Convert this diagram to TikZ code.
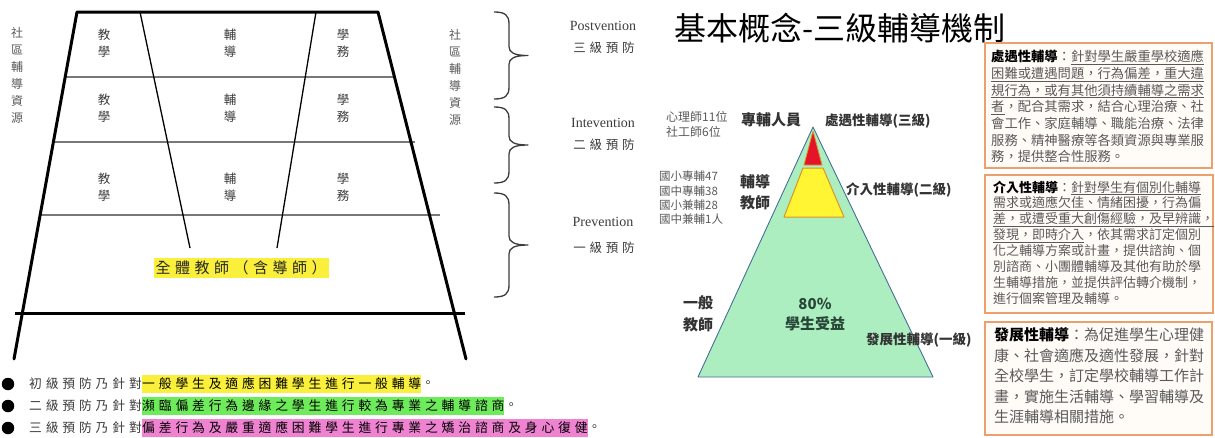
\documentclass[tikz,border=0pt]{standalone}
\usepackage{fontspec}
\setmainfont{Liberation Serif}
\newfontfamily\cjk{Noto Sans CJK TC}
\newfontfamily\cjksp[LetterSpace=30]{Noto Sans CJK TC}
\definecolor{hlyellow}{RGB}{250,240,60}
\definecolor{hlgreen}{RGB}{110,235,90}
\definecolor{hlpink}{RGB}{240,130,210}
\definecolor{mint}{RGB}{172,238,192}
\definecolor{pyredge}{RGB}{70,110,150}
\definecolor{pyrred}{RGB}{230,20,40}
\definecolor{pyryellow}{RGB}{255,245,50}
\definecolor{pyrorange}{RGB}{215,150,40}
\definecolor{boxedge}{RGB}{235,160,110}
\definecolor{boxfill}{RGB}{255,252,248}
\definecolor{txtgray}{RGB}{90,90,90}
\definecolor{kaigray}{RGB}{60,60,60}
\definecolor{hlinec}{RGB}{120,120,120}
\definecolor{darkgreen}{RGB}{40,70,55}
\tikzset{
  outer/.style={line width=3pt, line join=round, line cap=round},
  hrule/.style={line width=2pt, hlinec},
  inner/.style={line width=1.3pt},
  cell/.style={font=\cjk\fontsize{12.5}{17}\selectfont, text=kaigray, align=center, inner sep=0pt},
  vlabel/.style={font=\cjk\fontsize{12}{17}\selectfont, text=txtgray, align=center, inner sep=0pt},
  bracelbl/.style={font=\fontsize{14}{16}\selectfont, text=kaigray, inner sep=0pt},
  bracecjk/.style={font=\cjksp\fontsize{12.5}{15}\selectfont, text=kaigray, inner sep=0pt},
  bracepath/.style={line width=1.3pt, kaigray, line join=round},
  smallgray/.style={font=\cjk\fontsize{11.5}{14.3}\selectfont, text=txtgray, align=left, inner sep=0pt},
  boldlbl/.style={font=\cjk\bfseries\fontsize{15}{21}\selectfont, text=black!80, align=center, inner sep=0pt},
  levellbl/.style={font=\cjk\bfseries\fontsize{13.5}{16}\selectfont, text=black!80, inner sep=0pt},
  infobox/.style={draw=boxedge, line width=1.2pt, fill=boxfill},
  boxtxt/.style={text=txtgray, align=left, inner sep=0pt},
  bulletdot/.style={circle, fill=black, inner sep=0pt, minimum size=12.5pt},
  btext/.style={font=\cjksp\fontsize{12.8}{15}\selectfont, text=kaigray, inner xsep=0pt, inner ysep=3pt},
}
\newcommand\drawbrace[2]{%
  \draw[bracepath] (494,#1) .. controls (505,#1) and (509,{#1+3}) .. (509,{#1+12})
    -- (509,{(#1+#2)/2-9}) .. controls (509,{(#1+#2)/2-3}) and (514,{(#1+#2)/2}) .. (528,{(#1+#2)/2})
    .. controls (514,{(#1+#2)/2}) and (509,{(#1+#2)/2+3}) .. (509,{(#1+#2)/2+9})
    -- (509,{#2-12}) .. controls (509,{#2-3}) and (505,#2) .. (494,#2);}
\begin{document}
\begin{tikzpicture}[x=1pt,y=-1pt]
\useasboundingbox (0,0) rectangle (1215,437);
% ---------- left trapezoid ----------
\coordinate (TL) at (77,12);
\coordinate (TR) at (378,12);
\coordinate (BL) at (14,359);
\coordinate (BR) at (466,359);
\draw[hrule] (65,77) -- (394,77);
\draw[hrule] (53,142) -- (415,142);
\draw[hrule] (40,215) -- (440,215);
\draw[inner] (140,12) -- (190,248);
\draw[inner] (316,12) -- (277,248);
\draw[outer] (BL) -- (TL) -- (TR) -- (BR);
\draw[line width=3pt] (15,313) -- (465,313);
% cells
\node[cell] (c11) at (104,43) {教\\學};
\node[cell] (c12) at (230,43) {輔\\導};
\node[cell] (c13) at (343,43) {學\\務};
\node[cell] (c21) at (104,108) {教\\學};
\node[cell] (c22) at (230,108) {輔\\導};
\node[cell] (c23) at (343,108) {學\\務};
\node[cell] (c31) at (104,187) {教\\學};
\node[cell] (c32) at (230,187) {輔\\導};
\node[cell] (c33) at (343,187) {學\\務};
\node[font=\cjksp\fontsize{15}{18}\selectfont, fill=hlyellow, text=black!85, inner xsep=2pt, inner ysep=3pt] (allt) at (241,268) {全體教師（含導師）};
% community resources
\node[vlabel] (cl) at (17,75) {社\\區\\輔\\導\\資\\源};
\node[vlabel] (cr) at (455,77) {社\\區\\輔\\導\\資\\源};
% braces
\drawbrace{12}{99}
\drawbrace{107}{183}
\drawbrace{193}{297}
\node[bracelbl] (post) at (603,26) {Postvention};
\node[bracecjk] (post2) at (604,48) {三級預防};
\node[bracelbl] (inte) at (603,123) {Intevention};
\node[bracecjk] (inte2) at (604,145) {二級預防};
\node[bracelbl] (prev) at (603,222) {Prevention};
\node[bracecjk] (prev2) at (604,248) {一級預防};
% bullets
\node[bulletdot] (d1) at (8,384) {};
\node[btext, anchor=west] (p1) at (29,384) {初級預防乃針對};
\node[btext, anchor=west, fill=hlyellow, text=black] (h1) at (p1.east) {一般學生及適應困難學生進行一般輔導};
\node[btext, anchor=west] (e1) at (h1.east) {。};
\node[bulletdot] (d2) at (8,406) {};
\node[btext, anchor=west] (p2) at (29,406) {二級預防乃針對};
\node[btext, anchor=west, fill=hlgreen, text=black] (h2) at (p2.east) {瀕臨偏差行為邊緣之學生進行較為專業之輔導諮商};
\node[btext, anchor=west] (e2) at (h2.east) {。};
\node[bulletdot] (d3) at (8,428) {};
\node[btext, anchor=west] (p3) at (29,428) {三級預防乃針對};
\node[btext, anchor=west, fill=hlpink, text=black] (h3) at (p3.east) {偏差行為及嚴重適應困難學生進行專業之矯治諮商及身心復健};
\node[btext, anchor=west] (e3) at (h3.east) {。};
% ---------- right part ----------
\node[font=\cjk\fontsize{32}{36}\selectfont, anchor=west, inner sep=0pt] (title) at (674,28) {基本概念-三級輔導機制};
% pyramid
\coordinate (apex) at (813,127);
\coordinate (pbl) at (698,377);
\coordinate (pbr) at (933,377);
\draw[fill=mint, draw=pyredge, line width=0.9pt, line join=round] (apex) -- (pbr) -- (pbl) -- cycle;
\draw[fill=pyrred, draw=pyrorange, line width=0.8pt, line join=round] (813,131) -- (822,165) -- (804,165) -- cycle;
\draw[fill=pyryellow, draw=pyrorange, line width=1pt, line join=round] (803,168) -- (823,168) -- (844,217) -- (784,217) -- cycle;
% pyramid labels
\node[smallgray, anchor=west, font=\cjk\fontsize{12}{15}\selectfont] (psy) at (666,124) {心理師11位\\社工師6位};
\node[boldlbl] (staff) at (771,120) {專輔人員};
\node[levellbl, anchor=west] (lv3) at (825,121) {處遇性輔導(三級)};
\node[smallgray, anchor=west] (counts) at (659,198) {國小專輔47\\國中專輔38\\國小兼輔28\\國中兼輔1人};
\node[boldlbl] (cteach) at (755,192) {輔導\\教師};
\node[levellbl, anchor=west] (lv2) at (846,190) {介入性輔導(二級)};
\node[boldlbl, font=\cjk\bfseries\fontsize{15}{22}\selectfont] (gteach) at (698,314) {一般\\教師};
\node[boldlbl, text=darkgreen, font=\cjk\bfseries\fontsize{15}{20}\selectfont] (pct) at (815,315) {80\%\\學生受益};
\node[levellbl, anchor=west] (lv1) at (866,340) {發展性輔導(一級)};
% info boxes
\draw[infobox] (985,43) rectangle (1212,168);
\draw[infobox] (985,175) rectangle (1213,313);
\draw[infobox] (985,322) rectangle (1212,435);
\node[boxtxt, anchor=north west, font=\cjk\fontsize{13.3}{16.7}\selectfont] (t1) at (991,50) {%
\textcolor{black}{\textbf{處遇性輔導}}：\underline{針對學生嚴重學校適應}\\
\underline{困難或遭遇問題，行為偏差，重大違}\\
\underline{規行為，或有其他須持續輔導之需求}\\
\underline{者}，配合其需求，結合心理治療、社\\
會工作、家庭輔導、職能治療、法律\\
服務、精神醫療等各類資源與專業服\\
務，提供整合性服務。};
\node[boxtxt, anchor=north west, font=\cjk\fontsize{13}{15.9}\selectfont] (t2) at (993,180.5) {%
\textcolor{black}{\textbf{介入性輔導}}：\underline{針對學生有個別化輔導}\\
\underline{需求或適應欠佳、情緒困擾，行為偏}\\
\underline{差，或遭受重大創傷經驗，及早辨識，}\\
\underline{發現，即時介入}，依其需求訂定個別\\
化之輔導方案或計畫，提供諮詢、個\\
別諮商、小團體輔導及其他有助於學\\
生輔導措施，並提供評估轉介機制，\\
進行個案管理及輔導。};
\node[boxtxt, anchor=north west, font=\cjk\fontsize{15}{20.5}\selectfont] (t3) at (994,327.5) {%
\textcolor{black}{\textbf{發展性輔導}}：為促進學生心理健\\
康、社會適應及適性發展，針對\\
全校學生，訂定學校輔導工作計\\
畫，實施生活輔導、學習輔導及\\
生涯輔導相關措施。};
\end{tikzpicture}
\end{document}
